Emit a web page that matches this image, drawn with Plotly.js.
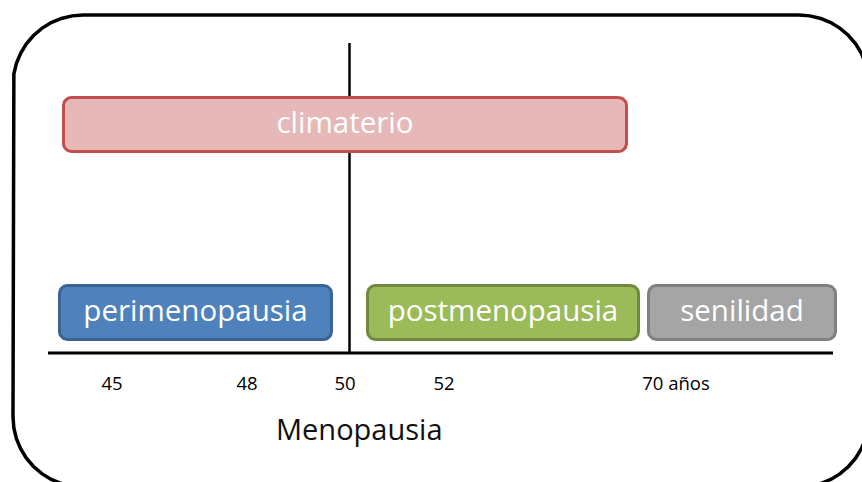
<!DOCTYPE html>
<html>
<head>
<meta charset="utf-8">
<script src="https://cdn.plot.ly/plotly-3.0.1.min.js"></script>
<style>html,body{margin:0;padding:0;background:#fff;}#chart{width:862px;height:482px;}</style>
</head>
<body>
<div id="chart"></div>
<script>
// Stages of the diagram (positions in diagram units along the time line)
const stageNames = ['climaterio', 'perimenopausia', 'postmenopausia', 'senilidad'];
const stageStart = [62, 58, 366, 647];
const stageEnd = [628, 333, 640, 837];
const stageRow = [124.5, 312.5, 312.5, 312.5];
const stageFill = ['#E6B9B8', '#4F81BD', '#9BBB59', '#A5A5A5'];
const stageBorder = ['#C0504D', '#3A6396', '#71893F', '#808080'];

// Age tick labels on the time line
const tickPos = [112, 247, 345, 444, 676];
const tickLabels = ['45', '48', '50', '52', '70 años'];

// Menopause marker and time line
const menopausePos = 349.5;
const axisLineY = 353;
const axisStart = 48, axisEnd = 833;
const menopauseTop = 43;

const FONT = 'Open Sans, Calibri, sans-serif';

function roundedRect(x0, x1, y0, y1, r) {
  const xs = [], ys = [];
  const n = 10;
  const corners = [
    [x1 - r, y0 + r, -Math.PI / 2, 0],
    [x1 - r, y1 - r, 0, Math.PI / 2],
    [x0 + r, y1 - r, Math.PI / 2, Math.PI],
    [x0 + r, y0 + r, Math.PI, 1.5 * Math.PI]
  ];
  corners.forEach(([cx, cy, a0, a1]) => {
    for (let i = 0; i <= n; i++) {
      const a = a0 + (a1 - a0) * i / n;
      xs.push(cx + r * Math.cos(a));
      ys.push(cy + r * Math.sin(a));
    }
  });
  xs.push(xs[0]); ys.push(ys[0]);
  return {x: xs, y: ys};
}

const traces = [];

// outer frame
const frame = roundedRect(13, 869, 15, 487, 70);
traces.push({
  type: 'scatter', mode: 'lines', x: frame.x, y: frame.y,
  line: {color: '#000', width: 3.5}, hoverinfo: 'skip', showlegend: false
});

// stage boxes
const halfH = 27;
stageNames.forEach((name, i) => {
  const rr = roundedRect(stageStart[i] + 1.5, stageEnd[i] - 1.5, stageRow[i] - halfH, stageRow[i] + halfH, 8);
  traces.push({
    type: 'scatter', mode: 'lines', x: rr.x, y: rr.y, fill: 'toself',
    fillcolor: stageFill[i], line: {color: stageBorder[i], width: 3},
    name: name, hoverinfo: 'name', showlegend: false
  });
});

// stage labels
traces.push({
  type: 'scatter', mode: 'text',
  x: stageNames.map((_, i) => (stageStart[i] + stageEnd[i]) / 2),
  y: stageRow.map(v => v + 1),
  text: stageNames,
  textposition: 'middle center',
  textfont: {family: FONT, size: 29.5, color: '#FFFFFF'},
  hoverinfo: 'skip', showlegend: false
});

const layout = {
  width: 862, height: 482,
  margin: {l: 0, r: 0, t: 0, b: 0},
  paper_bgcolor: '#fff', plot_bgcolor: '#fff',
  xaxis: {
    range: [0, 862], showgrid: false, zeroline: false, showline: false,
    anchor: 'free', position: 1 - axisLineY / 482,
    tickmode: 'array', tickvals: tickPos, ticktext: tickLabels,
    ticks: '', ticklabelstandoff: 17,
    tickfont: {family: FONT, size: 18.5, color: '#000'},
    fixedrange: true
  },
  yaxis: {
    range: [482, 0], visible: false, showgrid: false, zeroline: false, fixedrange: true
  },
  shapes: [
    {type: 'line', xref: 'x', yref: 'y', x0: axisStart, x1: axisEnd, y0: axisLineY, y1: axisLineY,
     line: {color: '#000', width: 3}},
    {type: 'line', xref: 'x', yref: 'y', x0: menopausePos, x1: menopausePos, y0: menopauseTop, y1: axisLineY,
     line: {color: '#000', width: 2.5}, layer: 'below'}
  ],
  annotations: [
    {x: 359, y: 428, xref: 'x', yref: 'y', text: 'Menopausia', showarrow: false,
     font: {family: FONT, size: 29, color: '#111'}, xanchor: 'center', yanchor: 'middle'}
  ]
};

Plotly.newPlot('chart', traces, layout, {staticPlot: true, displayModeBar: false});
</script>
</body>
</html>
